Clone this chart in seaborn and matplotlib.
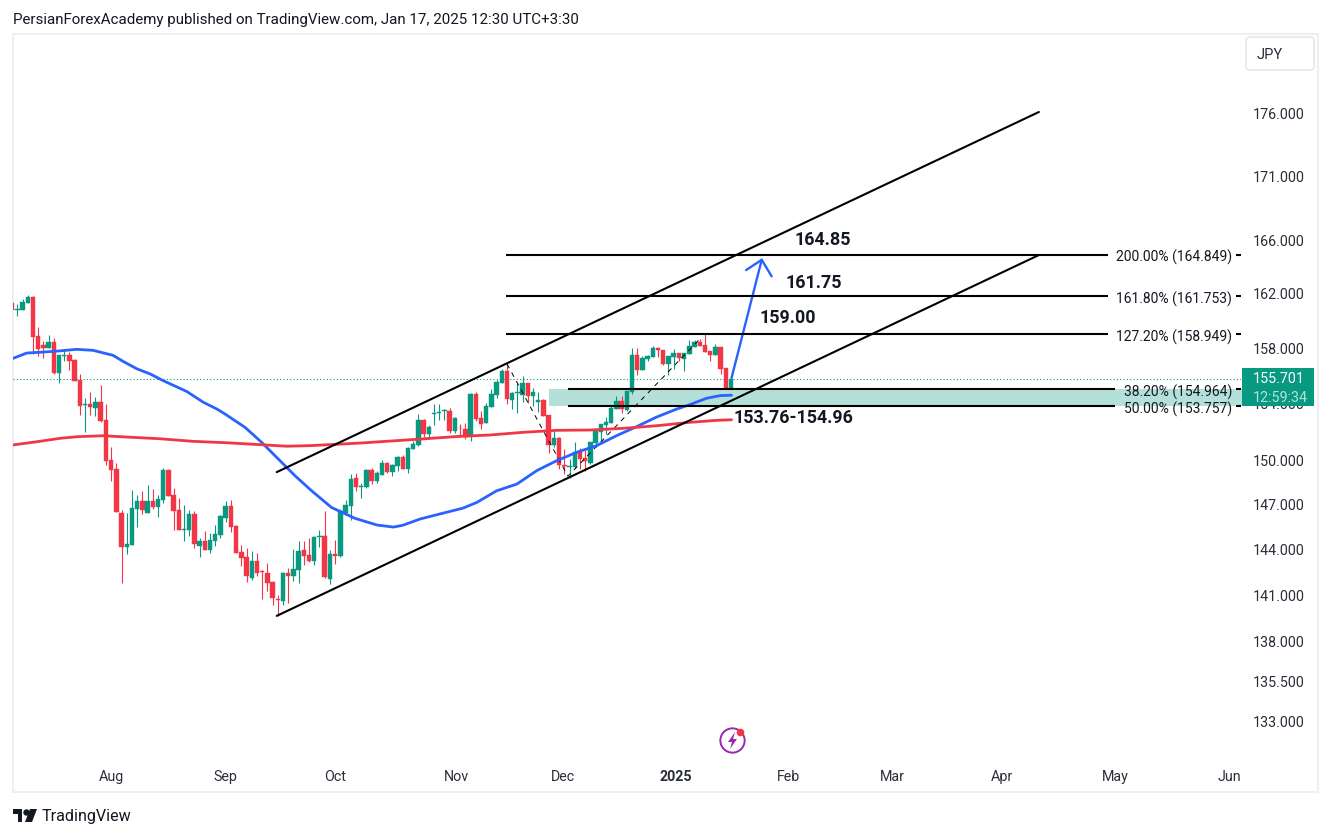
import matplotlib
matplotlib.use("Agg")
import matplotlib.pyplot as plt
import pandas as pd
import seaborn as sns
from matplotlib.lines import Line2D
from matplotlib.patches import FancyBboxPatch, Polygon, Rectangle

# daily candles, one entry per bar
opens = [161.25, 160.73, 160.75, 161.27, 161.70, 158.81, 158.15, 157.93, 158.37, 156.15,
         157.33, 157.43, 157.07, 155.61, 153.84, 153.89, 153.63, 154.06, 152.78, 149.99,
         149.37, 146.37, 144.12, 144.26, 146.64, 147.18, 146.37, 147.18, 146.77, 147.25,
         149.30, 147.57, 146.57, 145.23, 145.25, 146.31, 144.17, 144.50, 143.90, 144.50,
         144.90, 146.04, 146.84, 145.50, 143.77, 143.43, 142.05, 143.17, 142.51, 142.37,
         141.78, 140.68, 140.55, 142.37, 142.18, 142.57, 143.90, 143.57, 143.17, 144.78,
         144.83, 141.98, 143.64, 143.50, 146.37, 146.84, 148.75, 148.14, 148.14, 149.30,
         148.54, 148.95, 149.78, 149.16, 149.58, 150.20, 149.37, 150.76, 151.04, 152.78,
         151.80, 153.22, 153.27, 153.42, 153.42, 152.01, 152.24, 152.15, 151.59, 154.62,
         152.92, 152.57, 153.70, 154.55, 155.42, 156.28, 154.22, 154.69, 154.55, 155.42,
         154.48, 154.08, 154.18, 153.13, 151.04, 151.52, 149.65, 149.53, 149.51, 150.55,
         150.13, 149.78, 151.17, 151.94, 152.43, 152.57, 153.56, 154.13, 153.49, 154.77,
         157.43, 156.35, 157.14, 157.29, 157.93, 157.79, 156.78, 157.29, 157.57, 157.14,
         157.50, 158.01, 158.37, 158.15, 157.71, 157.43, 158.01, 156.49, 155.04]
highs = [161.30, 161.18, 161.55, 161.85, 161.75, 159.45, 158.44, 158.88, 158.64, 157.43,
         157.86, 157.62, 157.14, 156.06, 154.34, 154.77, 154.41, 155.27, 153.91, 150.90,
         149.78, 146.57, 146.37, 147.93, 147.59, 147.86, 148.27, 148.00, 147.59, 149.45,
         149.37, 148.05, 147.39, 146.91, 146.57, 146.50, 144.70, 145.18, 145.05, 145.57,
         146.24, 147.18, 147.25, 145.57, 144.23, 144.03, 143.84, 143.70, 142.57, 143.04,
         141.85, 140.94, 142.44, 142.71, 143.97, 144.50, 144.50, 144.68, 144.83, 145.23,
         146.50, 143.90, 144.56, 146.64, 147.25, 149.02, 149.09, 148.41, 149.37, 149.44,
         149.23, 149.99, 149.85, 149.71, 150.27, 150.34, 150.90, 151.31, 153.20, 152.85,
         152.43, 153.91, 153.91, 153.56, 153.63, 152.99, 152.50, 152.57, 154.69, 154.77,
         153.42, 153.98, 154.98, 155.63, 156.42, 156.78, 154.77, 155.42, 155.94, 155.42,
         155.05, 154.77, 154.27, 153.13, 152.01, 151.57, 150.76, 150.06, 151.24, 150.83,
         150.83, 151.24, 152.22, 152.50, 152.97, 153.80, 154.48, 154.50, 154.84, 157.93,
         157.93, 157.36, 157.43, 158.08, 158.01, 157.79, 157.36, 157.86, 157.57, 157.57,
         158.52, 158.52, 158.59, 158.96, 157.71, 158.22, 158.01, 156.49, 155.78]
lows = [160.70, 160.30, 160.75, 161.27, 157.50, 157.38, 157.23, 157.93, 156.06, 155.44,
        157.00, 156.35, 155.58, 153.16, 151.96, 153.16, 153.09, 152.66, 149.67, 148.57,
        146.46, 141.74, 143.66, 144.26, 145.45, 146.31, 146.37, 146.64, 146.13, 147.05,
        147.50, 145.25, 145.25, 144.52, 144.85, 144.03, 143.46, 143.90, 143.70, 144.17,
        144.70, 145.77, 145.12, 143.70, 142.84, 141.79, 141.92, 142.18, 140.68, 141.22,
        140.32, 139.61, 140.32, 140.42, 141.85, 141.72, 142.90, 143.10, 142.90, 144.10,
        142.05, 141.65, 142.97, 143.43, 146.37, 145.90, 147.86, 147.39, 148.09, 148.34,
        148.41, 148.95, 149.09, 148.88, 149.23, 149.37, 149.09, 150.76, 150.97, 151.59,
        151.45, 152.43, 152.78, 152.78, 151.87, 151.87, 151.59, 151.45, 151.31, 152.71,
        152.15, 152.57, 153.70, 154.34, 155.42, 153.91, 153.56, 153.27, 154.03, 153.98,
        153.80, 153.32, 153.06, 150.48, 150.90, 149.37, 149.02, 148.75, 149.44, 149.37,
        149.23, 149.71, 150.90, 151.11, 151.80, 152.57, 153.56, 153.27, 153.42, 154.62,
        155.98, 156.35, 157.00, 157.29, 157.29, 156.71, 155.98, 156.42, 157.00, 156.28,
        157.50, 158.01, 158.08, 157.64, 157.00, 157.43, 156.06, 154.96, 154.96]
closes = [160.75, 160.80, 161.33, 161.70, 158.76, 157.88, 157.93, 158.37, 156.15, 157.43,
          157.40, 157.00, 155.58, 153.80, 153.89, 153.70, 154.06, 152.71, 149.94, 149.32,
          146.46, 144.12, 144.30, 146.71, 147.18, 146.59, 147.18, 146.77, 147.32, 149.30,
          147.50, 146.50, 145.25, 145.27, 146.31, 144.30, 144.50, 143.90, 144.56, 144.95,
          146.17, 146.84, 145.45, 143.70, 143.37, 142.18, 143.17, 142.40, 142.42, 141.72,
          140.76, 140.62, 142.37, 142.18, 142.64, 143.84, 143.50, 143.17, 144.76, 144.83,
          142.11, 143.64, 143.50, 146.50, 146.91, 148.68, 148.14, 148.20, 149.30, 148.54,
          149.09, 149.78, 149.16, 149.65, 150.20, 149.37, 150.83, 151.11, 152.78, 151.80,
          152.29, 153.27, 153.35, 153.47, 152.01, 152.92, 152.20, 151.59, 154.62, 152.85,
          152.50, 153.77, 154.62, 155.49, 156.28, 154.27, 154.69, 154.74, 155.42, 154.48,
          154.77, 154.18, 153.06, 151.04, 151.52, 149.65, 149.58, 149.58, 150.55, 150.06,
          149.92, 151.24, 152.08, 152.50, 152.64, 153.63, 154.13, 153.56, 154.84, 157.43,
          156.35, 157.21, 157.36, 157.93, 157.79, 156.78, 157.36, 157.57, 157.21, 157.57,
          158.08, 158.37, 158.08, 157.64, 157.43, 158.01, 156.42, 154.96, 155.70]

# moving averages, bar number and price
ma_fast_bar = [0.2, 2.8, 5.9, 9.2, 12.4, 15.5, 16.9, 19.4, 21.3, 23.9, 26.5, 29.0, 33.5, 36.7, 39.3,
               40.9, 44.7, 47.9, 51.1, 54.3, 57.5, 61.3, 65.8, 70.0, 73.2, 75.0, 78.3, 82.1, 86.6,
               89.2, 93.0, 96.9, 100.7, 104.5, 108.4, 112.2, 116.0, 119.9, 123.7, 127.6, 130.1,
               133.3, 135.9, 138.1]
ma_fast = [157.19, 157.57, 157.64, 157.73, 157.84, 157.77, 157.64, 157.40, 156.97, 156.44, 156.06,
           155.58, 154.81, 154.04, 153.56, 153.20, 152.27, 151.22, 150.06, 148.91, 147.88, 146.75,
           146.02, 145.57, 145.43, 145.55, 145.97, 146.31, 146.71, 147.09, 147.88, 148.34, 149.26,
           149.94, 150.53, 150.99, 151.68, 152.32, 152.99, 153.56, 153.87, 154.32, 154.51, 154.54]
ma_slow_bar = [0.2, 4.7, 9.2, 12.4, 17.4, 22.0, 28.4, 34.7, 41.2, 47.6, 52.7, 57.2, 66.8, 76.4,
               86.0, 91.7, 98.1, 104.5, 110.9, 117.3, 123.7, 130.1, 135.2, 138.1]
ma_slow = [151.04, 151.26, 151.50, 151.61, 151.68, 151.59, 151.47, 151.29, 151.19, 151.06, 150.95,
           150.99, 151.17, 151.40, 151.64, 151.73, 151.92, 152.06, 152.08, 152.20, 152.38, 152.62,
           152.76, 152.80]

# drawings
channel_bar = [50.8, 197.1]
channel_low = [139.60, 164.85]
channel_high = [149.16, 176.08]
zigzag_bar = [95.0, 106.7, 132.0]
zigzag = [156.78, 148.88, 158.59]
arrow_bar = [138.1, 143.9]
arrow = [155.77, 164.49]
head_bar = [140.9, 143.9, 145.8]
head = [163.71, 164.49, 163.24]

fib_levels = [164.849, 161.753, 158.949, 154.964, 153.757]
fib_labels = ["200.00% (164.849)", "161.80% (161.753)", "127.20% (158.949)", "38.20% (154.964)", "50.00% (153.757)"]
fib_start = [94.8, 94.8, 94.8, 106.7, 106.7]
fib_stop = [210.3, 210.3, 210.3, 211.7, 211.7]

zone_bars = [103.0, 236.0]
last_price = 155.701

price_ticks = [176, 171, 166, 162, 158, 154, 150, 147, 144, 141, 138, 135.5, 133]
price_tick_labels = ["176.000", "171.000", "166.000", "162.000", "158.000", "154.000", "150.000",
                     "147.000", "144.000", "141.000", "138.000", "135.500", "133.000"]
time_ticks = [19, 41, 62, 85.3, 105.7, 127.4, 149, 168.9, 190, 211.8, 233.7]
time_labels = ["Aug", "Sep", "Oct", "Nov", "Dec", "2025", "Feb", "Mar", "Apr", "May", "Jun"]

target_notes = ["164.85", "161.75", "159.00", "153.76-154.96"]
note_bar = [155.7, 153.8, 148.8, 150.0]
note_price = [166.08, 162.82, 160.22, 153.03]

GREEN = "#089981"
RED = "#F23645"
BLUE = "#2962FF"
W, H = 1331, 837

sns.set_theme(style="white")
plt.rcParams["font.family"] = ["Roboto", "DejaVu Sans"]


def fx(x):
    return x / W


def fy(y):
    return 1 - y / H


fig = plt.figure(figsize=(W / 100, H / 100), dpi=100, facecolor="white")
ax = fig.add_axes([fx(13), fy(762), (1241 - 13) / W, (762 - 36) / H])
ax.set_yscale("log")
ax.set_xlim(0.17, 235.9)
ax.set_ylim(130.57, 182.44)

df = pd.DataFrame({"open": opens, "high": highs, "low": lows, "close": closes})
df["bar"] = df.index
df["up"] = df["close"] >= df["open"]
df["color"] = df["up"].map({True: GREEN, False: RED})
df["body_low"] = df[["open", "close"]].min(axis=1)
df["body_high"] = df[["open", "close"]].max(axis=1)

# zone and last price go under the candles
ax.fill_between(zone_bars, fib_levels[4], fib_levels[3], color="#B5E0D9", lw=0, zorder=1)
ax.hlines(last_price, 0.17, 235.9, color=GREEN, lw=0.8, linestyles=(0, (1, 2)), zorder=1.5)

ax.vlines(df["bar"], df["low"], df["high"], colors=df["color"], lw=0.8, zorder=2)
ax.bar(df["bar"], df["body_high"] - df["body_low"], bottom=df["body_low"], width=0.85,
       color=df["color"], lw=0.3, edgecolor=df["color"], zorder=3)

sns.lineplot(x=ma_fast_bar, y=ma_fast, color=BLUE, lw=2, ax=ax, zorder=5)
sns.lineplot(x=ma_slow_bar, y=ma_slow, color=RED, lw=2, ax=ax, zorder=5)
sns.lineplot(x=channel_bar, y=channel_low, color="black", lw=1.5, ax=ax, zorder=6)
sns.lineplot(x=channel_bar, y=channel_high, color="black", lw=1.5, ax=ax, zorder=6)
ax.plot(zigzag_bar, zigzag, color="black", lw=0.7, ls=(0, (5, 5)), zorder=4)
sns.lineplot(x=arrow_bar, y=arrow, color=BLUE, lw=1.7, ax=ax, zorder=6)
ax.plot(head_bar, head, color=BLUE, lw=1.7, zorder=6)

# fib levels, line then label then a short dash by the scale
for level, label, start, stop in zip(fib_levels, fib_labels, fib_start, fib_stop):
    ax.hlines(level, start, stop, color="black", lw=1.5, zorder=6)
    ax.hlines(level, 235.0, 235.9, color="black", lw=1.5, zorder=6)
    ax.text(234.2, level, label, ha="right", va="center_baseline", fontsize=10, color="#131722", zorder=7)

for note, x, y in zip(target_notes, note_bar, note_price):
    ax.text(x, y, note, ha="center", va="center", fontsize=12.9, fontweight="bold", color="#131722", zorder=7)

ax.set_xlabel("")
ax.set_ylabel("")
ax.yaxis.tick_right()
ax.set_yticks(price_ticks, price_tick_labels)
ax.minorticks_off()
ax.set_xticks(time_ticks, time_labels)
ax.tick_params(axis="y", length=0, pad=8.5, labelsize=10.3, labelcolor="#2a2e39")
ax.tick_params(axis="x", length=0, pad=5.5, labelsize=10.3, labelcolor="#2a2e39")
ax.get_xticklabels()[5].set_fontweight("bold")
sns.despine(ax=ax, left=True, right=True, top=True, bottom=True)
ax.patch.set_alpha(0)

# frame, header and footer
fig.add_artist(Rectangle((fx(13), fy(793)), (1318 - 13) / W, (793 - 35) / H, transform=fig.transFigure,
                         fill=False, edgecolor="#EEEEF5", lw=1.5, zorder=-1))
fig.text(fx(13), fy(20), "PersianForexAcademy published on TradingView.com, Jan 17, 2025 12:30 UTC+3:30",
         fontsize=10.9, color="#131722", va="center", ha="left")

fig.add_artist(FancyBboxPatch((fx(1246), fy(71)), 68 / W, 33 / H, transform=fig.transFigure,
                              boxstyle="round,pad=0,rounding_size=0.003", mutation_aspect=W / H,
                              facecolor="white", edgecolor="#E0E3EB", lw=1))
fig.text(fx(1257), fy(55), "JPY", fontsize=10.5, color="#2a2e39", va="center", ha="left")

fig.add_artist(Rectangle((fx(1242), fy(407)), 72 / W, 38 / H, transform=fig.transFigure,
                         facecolor=GREEN, edgecolor="none"))
fig.text(fx(1253), fy(379.5), "155.701", fontsize=10.3, color="white", va="center", ha="left")
fig.text(fx(1253), fy(398), "12:59:34", fontsize=10.3, color="#B5E0D9", va="center", ha="left")

# lightning badge
purple = "#9C27B0"
fig.add_artist(Line2D([fx(732)], [fy(741)], marker="o", ms=17.5, mfc="white", mec=purple, mew=1.4,
                      transform=fig.transFigure, zorder=2))
bolt = [(735, 733), (728, 743), (732, 743), (730, 750), (737, 740), (733, 740)]
fig.add_artist(Polygon([(fx(a), fy(b)) for a, b in bolt], closed=True, transform=fig.transFigure,
                       facecolor=purple, edgecolor="none", zorder=3))
fig.add_artist(Line2D([fx(739.5)], [fy(733)], marker="o", ms=4.5, mfc=RED, mec=RED,
                      transform=fig.transFigure, zorder=4))

# TradingView mark
logo_t = [(13, 810), (22, 810), (22, 823), (17.5, 823), (17.5, 815), (13, 815)]
logo_v = [(30, 810), (37, 810), (32, 823), (25, 823)]
for shape in (logo_t, logo_v):
    fig.add_artist(Polygon([(fx(a), fy(b)) for a, b in shape], closed=True, transform=fig.transFigure,
                           facecolor="#131722", edgecolor="none"))
fig.add_artist(Line2D([fx(26)], [fy(812.5)], marker="o", ms=3.6, mfc="#131722", mec="#131722",
                      transform=fig.transFigure))
fig.text(fx(42), fy(817), "TradingView", fontsize=11.6, color="#131722", va="center", ha="left")

fig.savefig("out.png", dpi=100)
